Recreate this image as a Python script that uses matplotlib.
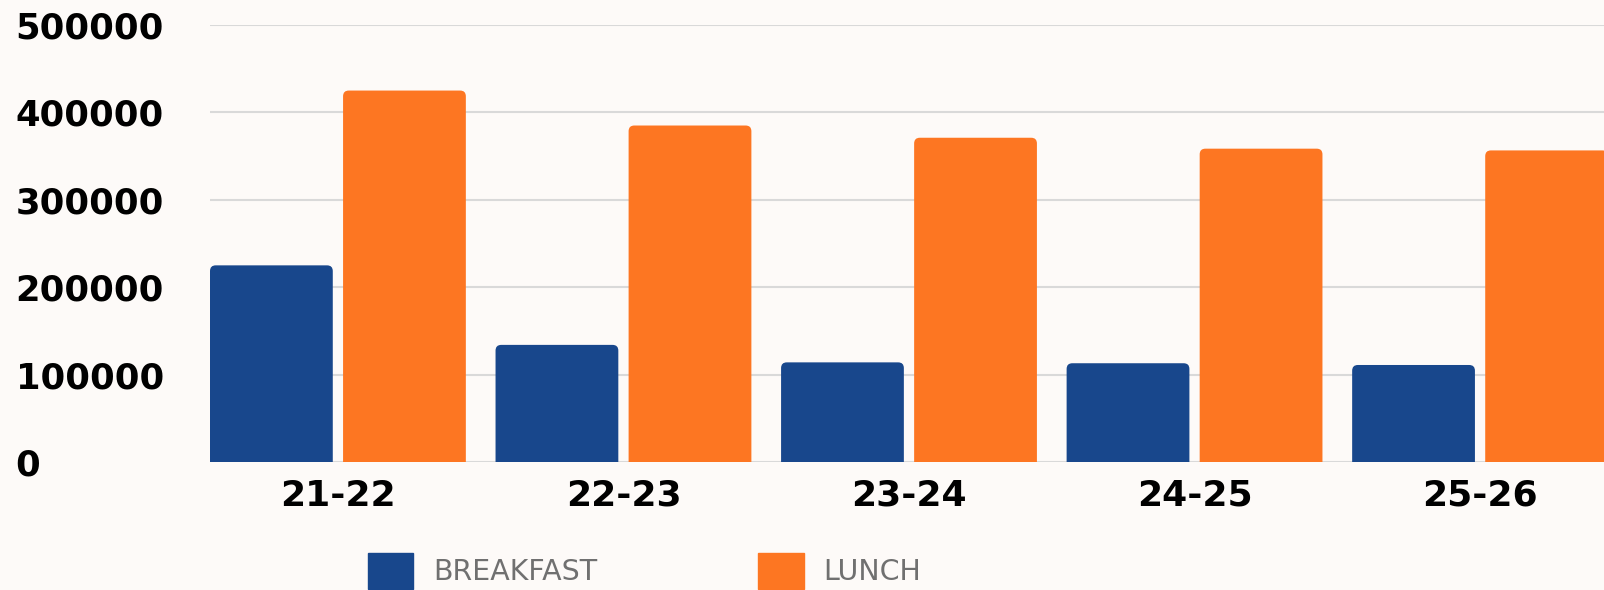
import matplotlib.pyplot as plt
from matplotlib.patches import FancyBboxPatch, Patch
import numpy as np

years = ['21-22', '22-23', '23-24', '24-25', '25-26']
breakfast = [225000, 134000, 114000, 113000, 111000]
lunch = [425000, 385000, 371000, 358500, 356500]

bg = '#fdfaf8'
blue = '#18478c'
orange = '#fd7622'

fig = plt.figure(figsize=(16.04, 5.90), dpi=100, facecolor=bg)
ax = fig.add_axes([210/1604, 128/590, 1394/1604, 437/590], facecolor=bg)

x = np.arange(len(years))
w = 0.43
off = 0.233
b1 = ax.bar(x - off, breakfast, w, color=blue, zorder=3)
b2 = ax.bar(x + off, lunch, w, color=orange, zorder=3)

# round the top corners a bit
aspect = (100000 / 87.5) * 285.5
for bars in (b1, b2):
    for b in bars:
        bx, bw, bh = b.get_x(), b.get_width(), b.get_height()
        p = FancyBboxPatch((bx, -20000), bw, bh + 20000,
                           boxstyle='round,pad=0,rounding_size=0.02',
                           mutation_aspect=aspect,
                           fc=b.get_facecolor(), ec='none', zorder=3)
        b.set_visible(False)
        ax.add_patch(p)

ax.set_xlim(-0.448, 4.434)
ax.set_ylim(0, 500000)
ax.set_yticks([0, 100000, 200000, 300000, 400000, 500000])
ax.set_yticklabels(['0', '100000', '200000', '300000', '400000', '500000'])
ax.set_xticks(x)
ax.set_xticklabels(years)

ax.grid(axis='y', color='#d9d9d9', linewidth=1.5, zorder=0)
for s in ax.spines.values():
    s.set_visible(False)

ax.tick_params(axis='y', length=0, pad=140, labelsize=25.5)
ax.tick_params(axis='x', length=0, pad=12, labelsize=26)
for t in ax.get_yticklabels():
    t.set_horizontalalignment('left')
    t.set_fontweight('bold')
for t in ax.get_xticklabels():
    t.set_fontweight('bold')

handles = [Patch(color=blue, label='BREAKFAST'), Patch(color=orange, label='LUNCH')]
leg = fig.legend(handles=handles, loc='center left', bbox_to_anchor=(342/1604, 19/590),
                 ncol=2, frameon=False, fontsize=20.5, handlelength=1.6, handleheight=1.6,
                 handletextpad=0.7, columnspacing=5.65)
for t in leg.get_texts():
    t.set_color('#707070')

fig.savefig('out.png', dpi=100, facecolor=bg)
